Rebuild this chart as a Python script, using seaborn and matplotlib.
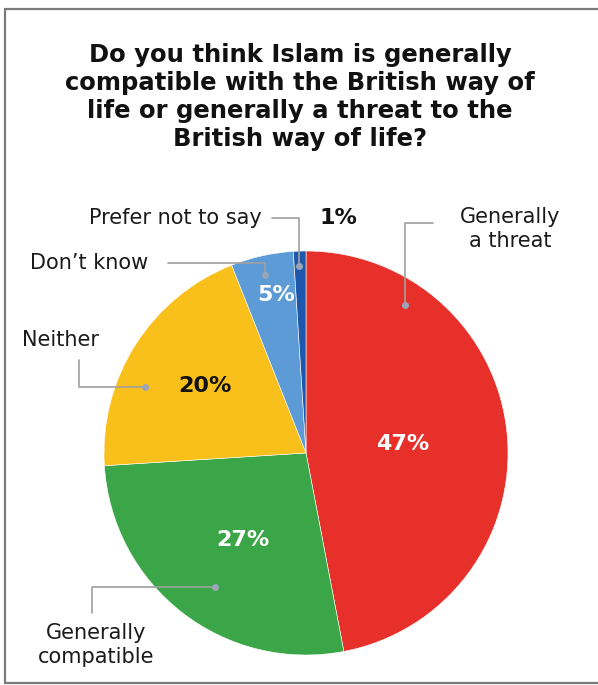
import matplotlib
matplotlib.use("Agg")
import matplotlib.pyplot as plt
import seaborn as sns
from matplotlib.lines import Line2D

# data
categories = ["Generally a threat", "Generally compatible", "Neither",
              "Don't know", "Prefer not to say"]
shares = [47, 27, 20, 5, 1]
pct_labels = ["47%", "27%", "20%", "5%", "1%"]
colors = ["#E8302A", "#3BA647", "#F9BF1B", "#5C9BD6", "#1E57AC"]

sns.set_theme(style="white")
plt.rcParams["font.family"] = ["DejaVu Sans"]

W, H = 598, 685
fig = plt.figure(figsize=(W / 100, H / 100), dpi=100)
fig.patch.set_facecolor("white")


def fx(x):
    return x / W


def fy(y):
    return 1 - y / H


# frame (left, top, bottom)
for xs, ys in [((5, 5), (9, 683)), ((5, 598), (9, 9)), ((5, 598), (683, 683))]:
    fig.add_artist(Line2D([fx(v) for v in xs], [fy(v) for v in ys],
                          color="#7a7a7a", lw=1.6))

# title
fig.text(fx(300), fy(97),
         "Do you think Islam is generally\ncompatible with the British way of\n"
         "life or generally a threat to the\nBritish way of life?",
         ha="center", va="center", fontsize=17.5, fontweight="bold",
         linespacing=1.2, color="#111111")

# pie
cx, cy, r = 306, 453, 202
ax = fig.add_axes([fx(cx - r), fy(cy + r), 2 * r / W, 2 * r / H])
ax.pie(shares, colors=colors, startangle=90, counterclock=False,
       wedgeprops=dict(edgecolor="white", linewidth=0.4))
ax.set_xlim(-1, 1)
ax.set_ylim(-1, 1)
ax.set_aspect("auto")
ax.axis("off")

# percentage labels inside slices
pct_pos = [(403, 444), (243, 540), (205, 386), (276, 295), (338, 218)]
pct_col = ["white", "white", "#111111", "white", "#111111"]
for lab, (px, py), c in zip(pct_labels, pct_pos, pct_col):
    fig.text(fx(px), fy(py), lab, ha="center", va="center", fontsize=16,
             fontweight="heavy", color=c)

# category labels
lab_fs = 15
fig.text(fx(262), fy(218), categories[4], ha="right", va="center",
         fontsize=lab_fs, color="#1a1a1a")
fig.text(fx(148), fy(263), "Don\u2019t know", ha="right", va="center",
         fontsize=lab_fs, color="#1a1a1a")
fig.text(fx(22), fy(340), categories[2], ha="left", va="center",
         fontsize=lab_fs, color="#1a1a1a")
fig.text(fx(510), fy(229), "Generally\na threat", ha="center", va="center",
         fontsize=lab_fs, color="#1a1a1a", linespacing=1.2)
fig.text(fx(96), fy(645), "Generally\ncompatible", ha="center", va="center",
         fontsize=lab_fs, color="#1a1a1a", linespacing=1.2)

# leader lines
leaders = [
    [(272, 218), (299, 218), (299, 266)],
    [(168, 263), (265, 263), (265, 275)],
    [(433, 223), (405, 223), (405, 305)],
    [(79, 360), (79, 387), (145, 387)],
    [(92, 613), (92, 587), (215, 587)],
]
for pts in leaders:
    xs = [fx(p[0]) for p in pts]
    ys = [fy(p[1]) for p in pts]
    fig.add_artist(Line2D(xs, ys, color="#a0a0a0", lw=1.2))
    fig.add_artist(Line2D([xs[-1]], [ys[-1]], marker="o", markersize=4,
                          color="#9aa6b8", lw=0))

fig.savefig("out.png", dpi=100, facecolor="white")
